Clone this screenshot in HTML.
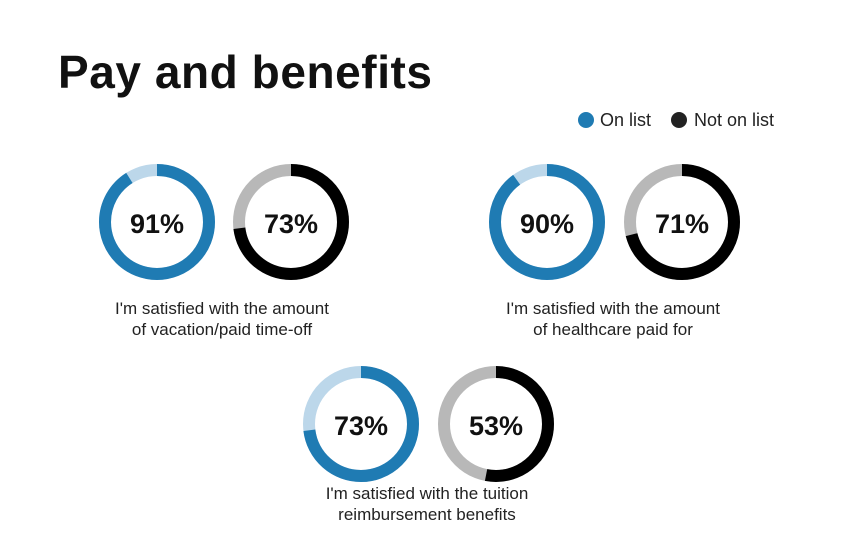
<!DOCTYPE html>
<html><head><style>
body{margin:0;background:#fff;}
svg{display:block;font-family:"Liberation Sans",sans-serif;}
</style></head><body>
<svg width="844" height="550" viewBox="0 0 844 550">
<rect width="844" height="550" fill="#fff"/>
<text x="58" y="88" font-size="46" font-weight="bold" fill="#111" textLength="374">Pay and benefits</text>
<circle cx="586" cy="120" r="8" fill="#1f7bb3"/>
<text x="600" y="126" font-size="18" fill="#222">On list</text>
<circle cx="679" cy="120" r="8" fill="#222"/>
<text x="694" y="126" font-size="18" fill="#222">Not on list</text>
<g fill="none" stroke-width="12">
<g transform="translate(157,222) rotate(-90)">
<circle r="52" stroke="#bcd7ea"/><circle r="52" stroke="#1f7bb3" stroke-dasharray="297.3 400"/></g>
<g transform="translate(291,222) rotate(-90)">
<circle r="52" stroke="#b8b8b8"/><circle r="52" stroke="#000" stroke-dasharray="238.5 400"/></g>
<g transform="translate(547,222) rotate(-90)">
<circle r="52" stroke="#bcd7ea"/><circle r="52" stroke="#1f7bb3" stroke-dasharray="294 400"/></g>
<g transform="translate(682,222) rotate(-90)">
<circle r="52" stroke="#b8b8b8"/><circle r="52" stroke="#000" stroke-dasharray="232 400"/></g>
<g transform="translate(361,424) rotate(-90)">
<circle r="52" stroke="#bcd7ea"/><circle r="52" stroke="#1f7bb3" stroke-dasharray="238.5 400"/></g>
<g transform="translate(496,424) rotate(-90)">
<circle r="52" stroke="#b8b8b8"/><circle r="52" stroke="#000" stroke-dasharray="173.2 400"/></g>
</g>
<g font-size="27" font-weight="bold" fill="#111" text-anchor="middle">
<text x="157" y="233">91%</text>
<text x="291" y="233">73%</text>
<text x="547" y="233">90%</text>
<text x="682" y="233">71%</text>
<text x="361" y="435">73%</text>
<text x="496" y="435">53%</text>
</g>
<g font-size="17" fill="#222" text-anchor="middle">
<text x="222" y="314">I'm satisfied with the amount</text>
<text x="222" y="335">of vacation/paid time-off</text>
<text x="613" y="314">I'm satisfied with the amount</text>
<text x="613" y="335">of healthcare paid for</text>
<text x="427" y="499">I'm satisfied with the tuition</text>
<text x="427" y="520">reimbursement benefits</text>
</g>
</svg>
</body></html>
